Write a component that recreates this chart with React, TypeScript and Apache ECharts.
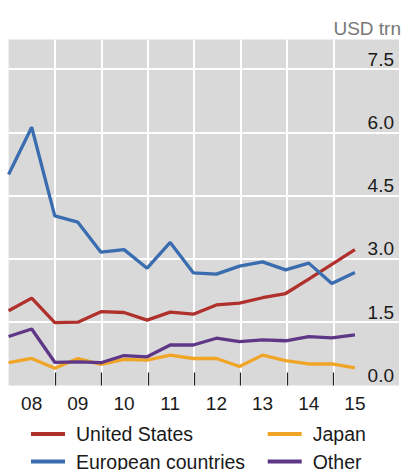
import React, { useEffect, useRef } from "react";
import * as echarts from "echarts";

const years = ["08", "09", "10", "11", "12", "13", "14", "15"];
const seriesNames = ["United States", "European countries", "Japan", "Other"];
const unitedStates = [1.77, 2.07, 1.49, 1.5, 1.75, 1.73, 1.55, 1.74, 1.69, 1.91, 1.95, 2.08, 2.18, 2.52, 2.87, 3.22];
const europe = [5.0, 6.12, 4.02, 3.87, 3.16, 3.22, 2.78, 3.39, 2.67, 2.64, 2.83, 2.93, 2.74, 2.9, 2.42, 2.68];
const japan = [0.54, 0.64, 0.41, 0.64, 0.5, 0.62, 0.6, 0.72, 0.64, 0.64, 0.45, 0.72, 0.59, 0.51, 0.51, 0.42];
const other = [1.16, 1.34, 0.55, 0.56, 0.54, 0.71, 0.68, 0.96, 0.96, 1.12, 1.04, 1.08, 1.06, 1.16, 1.13, 1.2];
const colors = ["#b0302c", "#3a6cb0", "#f0a526", "#5e3787"];
const yInterval = 1.5;
const yMax = 8.2;
const xMax = 16.91;

const FONT = "Liberation Sans, Arial, sans-serif";

// legend slot: [left, top] for each series, in series order
const legendSlots: [number, number][] = [
  [31, 424],
  [31, 451.5],
  [267.7, 424],
  [267.7, 451.5],
];

export default function App() {
  const ref = useRef<HTMLDivElement>(null);
  useEffect(() => {
    if (!ref.current) return;
    const chart = echarts.init(ref.current, undefined, { renderer: "svg" });
    const allSeries = [unitedStates, europe, japan, other];
    chart.setOption({
      animation: false,
      textStyle: { fontFamily: FONT },
      grid: [
        { left: 8.6, right: 1.3, top: 39.5, height: 346, show: true, backgroundColor: "#d9d9d9", borderWidth: 0 },
        { left: 55, width: 278.3, top: 39.5, height: 346, show: false },
      ],
      xAxis: [
        {
          type: "value", gridIndex: 0, min: 0, max: xMax, interval: 1,
          axisLine: { show: false }, axisTick: { show: false }, splitLine: { show: false },
          axisLabel: {
            margin: 8, fontSize: 19, color: "#1a1a1a", fontFamily: FONT,
            showMinLabel: true, showMaxLabel: true,
            formatter: (v: number) => (Number.isInteger(v) && v % 2 === 1 ? years[(v - 1) / 2] ?? "" : ""),
          },
        },
        {
          type: "value", gridIndex: 1, min: 2, max: 14, interval: 2,
          axisLine: { show: false },
          axisTick: { show: true, inside: true, length: 13, lineStyle: { color: "#222", width: 1.2 } },
          axisLabel: { show: false },
          splitLine: { show: true, lineStyle: { color: "#ffffff", width: 2 } },
        },
      ],
      yAxis: [
        {
          type: "value", gridIndex: 0, position: "right", min: 0, max: yMax, interval: yInterval,
          axisLine: { show: false }, axisTick: { show: false },
          splitLine: { show: true, showMinLine: false, showMaxLine: false, lineStyle: { color: "#ffffff", width: 2 } },
          axisLabel: {
            inside: true, margin: 5, fontSize: 19, color: "#1a1a1a", fontFamily: FONT,
            verticalAlign: "bottom", lineHeight: 20, showMaxLabel: true,
            formatter: (v: number) =>
              Math.abs(v / yInterval - Math.round(v / yInterval)) < 1e-6 ? v.toFixed(1) : "",
          },
        },
        { type: "value", gridIndex: 1, min: 0, max: yMax, show: false, splitLine: { show: false } },
      ],
      legend: seriesNames.map((name, i) => ({
        left: legendSlots[i][0],
        top: legendSlots[i][1],
        orient: "horizontal",
        itemWidth: 34,
        itemHeight: 4,
        icon: "rect",
        data: [name],
        padding: 0,
        textStyle: { fontSize: 19.5, color: "#1a1a1a", lineHeight: 20, padding: [0, 0, 0, 6], fontFamily: FONT },
      })),
      graphic: [
        {
          type: "text", right: 1, top: 19,
          style: { text: "USD trn", fontSize: 19, fill: "#777777", fontFamily: FONT },
        },
      ],
      series: allSeries.map((vals, i) => ({
        name: seriesNames[i],
        type: "line",
        xAxisIndex: 0,
        yAxisIndex: 0,
        data: vals.map((v, k) => [k, v]),
        showSymbol: false,
        symbol: "none",
        lineStyle: { color: colors[i], width: 3.3 },
        itemStyle: { color: colors[i] },
        z: 5,
      })),
    });
    return () => chart.dispose();
  }, []);
  return (
    <div
      ref={ref}
      style={{ position: "absolute", left: 0, top: 0, width: 402, height: 470 }}
    />
  );
}
